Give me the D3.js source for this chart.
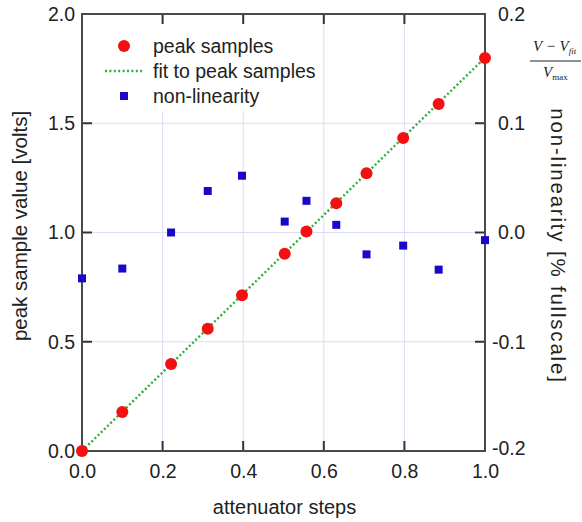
<!DOCTYPE html>
<html>
<head>
<meta charset="utf-8">
<script src="https://cdn.jsdelivr.net/npm/d3@7"></script>
<style>
  html, body { margin: 0; padding: 0; background: #fff; }
  svg { display: block; font-family: "Liberation Sans", Arial, Helvetica, sans-serif; }
</style>
</head>
<body>
<svg id="chart" width="582" height="522"></svg>
<script>
// attenuator step positions (x), shared by both series
const steps      = [0, 0.1, 0.221, 0.312, 0.397, 0.503, 0.557, 0.631, 0.706, 0.797, 0.885, 1.0];
// peak sample value [volts]
const peakVolts  = [0, 0.178, 0.398, 0.560, 0.713, 0.903, 1.005, 1.134, 1.271, 1.432, 1.588, 1.799];
// non-linearity, right axis
const nonLin     = [-0.042, -0.033, 0.0, 0.038, 0.052, 0.010, 0.029, 0.007, -0.020, -0.012, -0.034, -0.007];
// linear fit end points
const fitX       = [0, 1];
const fitY       = [0, 1.8];

const xTicks      = [0, 0.2, 0.4, 0.6, 0.8, 1.0];
const yLeftTicks  = [0, 0.5, 1.0, 1.5, 2.0];
const yRightTicks = [-0.2, -0.1, 0, 0.1, 0.2];

const legendItems = [
  { label: 'peak samples',          kind: 'circle' },
  { label: 'fit to peak samples',   kind: 'line'   },
  { label: 'non-linearity',         kind: 'square' },
];

// ── 레이아웃 ────────────────────────────────────────────────
const M = { left: 82, top: 14, right: 97, bottom: 71 };
const W = 582, H = 522;
const pw = W - M.left - M.right;
const ph = H - M.top - M.bottom;

const RED   = '#f21010';
const BLUE  = '#1a08c8';
const GREEN = '#2fae3a';
const AXIS  = '#4a4a4a';
const GRID  = '#dcdcf6';

const fmt = d => d3.format('.1f')(d).replace('−', '-');

const svg = d3.select('#chart');
const g = svg.append('g').attr('transform', `translate(${M.left},${M.top})`);

const x  = d3.scaleLinear().domain([0, 1]).range([0, pw]);
const yL = d3.scaleLinear().domain([0, 2]).range([ph, 0]);
const yR = d3.scaleLinear().domain([-0.2, 0.2]).range([ph, 0]);

// 격자
g.append('g').selectAll('line')
  .data(xTicks.filter(t => t > 0 && t < 1))
  .join('line')
  .attr('x1', d => x(d)).attr('x2', d => x(d))
  .attr('y1', 0).attr('y2', ph)
  .attr('stroke', GRID).attr('stroke-width', 1);

g.append('g').selectAll('line')
  .data(yLeftTicks.filter(t => t > 0 && t < 2))
  .join('line')
  .attr('x1', 0).attr('x2', pw)
  .attr('y1', d => yL(d)).attr('y2', d => yL(d))
  .attr('stroke', GRID).attr('stroke-width', 1);

// 범례 배경 (격자 가림)
g.append('rect')
  .attr('x', 10).attr('y', 1)
  .attr('width', 226).attr('height', 96)
  .attr('fill', '#fff');

// 축 (라벨만, 눈금은 아래에서 직접)
const axB = g.append('g').attr('transform', `translate(0,${ph})`)
  .call(d3.axisBottom(x).tickValues(xTicks).tickSize(0).tickPadding(16).tickFormat(fmt));
const axL = g.append('g')
  .call(d3.axisLeft(yL).tickValues(yLeftTicks).tickSize(0).tickPadding(7).tickFormat(fmt));
const axR = g.append('g').attr('transform', `translate(${pw},0)`)
  .call(d3.axisRight(yR).tickValues(yRightTicks).tickSize(0).tickPadding(13).tickFormat(fmt));

[axB, axL, axR].forEach(a => {
  a.select('.domain').remove();
  a.selectAll('.tick text').attr('fill', '#222').attr('font-size', 19.5)
    .attr('font-family', '"Liberation Sans", Arial, sans-serif');
});
axB.selectAll('.tick text').attr('dy', '0.55em');
axR.selectAll('.tick text').filter(d => d < 0).attr('dx', -6);
axR.selectAll('.tick text').filter(d => d === -0.2).attr('dy', '0.2em');

// 안쪽 눈금
const TICK = 10;
const ticksG = g.append('g').attr('stroke', '#333').attr('stroke-width', 2);
ticksG.selectAll('.tb').data(xTicks).join('line').attr('class', 'tb')
  .attr('x1', d => x(d)).attr('x2', d => x(d)).attr('y1', ph).attr('y2', ph - TICK);
ticksG.selectAll('.tt').data(xTicks).join('line').attr('class', 'tt')
  .attr('x1', d => x(d)).attr('x2', d => x(d)).attr('y1', 0).attr('y2', TICK);
ticksG.selectAll('.tl').data(yLeftTicks).join('line').attr('class', 'tl')
  .attr('x1', 0).attr('x2', TICK).attr('y1', d => yL(d)).attr('y2', d => yL(d));
ticksG.selectAll('.tr').data(yRightTicks).join('line').attr('class', 'tr')
  .attr('x1', pw).attr('x2', pw - TICK).attr('y1', d => yR(d)).attr('y2', d => yR(d));

// 테두리
g.append('rect')
  .attr('width', pw).attr('height', ph)
  .attr('fill', 'none').attr('stroke', AXIS).attr('stroke-width', 2);

// 피팅 직선
g.append('path')
  .datum(fitX.map((v, i) => [v, fitY[i]]))
  .attr('d', d3.line().x(d => x(d[0])).y(d => yL(d[1])))
  .attr('fill', 'none')
  .attr('stroke', GREEN).attr('stroke-width', 2.4)
  .attr('stroke-dasharray', '2 2.4');

// 비선형성 (사각형)
const SQ = 8;
g.append('g').selectAll('rect')
  .data(steps.map((s, i) => [s, nonLin[i]]))
  .join('rect')
  .attr('x', d => x(d[0]) - SQ / 2).attr('y', d => yR(d[1]) - SQ / 2)
  .attr('width', SQ).attr('height', SQ)
  .attr('fill', BLUE);

// 피크 샘플 (원)
g.append('g').selectAll('circle')
  .data(steps.map((s, i) => [s, peakVolts[i]]))
  .join('circle')
  .attr('cx', d => x(d[0])).attr('cy', d => yL(d[1]))
  .attr('r', 6)
  .attr('fill', RED);

// 범례
const leg = svg.append('g').attr('transform', 'translate(124,46)');
legendItems.forEach((it, i) => {
  const row = leg.append('g').attr('transform', `translate(0,${i * 25})`);
  if (it.kind === 'circle') {
    row.append('circle').attr('r', 6).attr('fill', RED);
  } else if (it.kind === 'line') {
    row.append('line').attr('x1', -19).attr('x2', 18)
      .attr('stroke', GREEN).attr('stroke-width', 2.4).attr('stroke-dasharray', '2 2.4');
  } else {
    row.append('rect').attr('x', -4).attr('y', -4).attr('width', 8).attr('height', 8).attr('fill', BLUE);
  }
  row.append('text')
    .attr('x', 29).attr('y', 6.5)
    .attr('font-size', 19.5).attr('fill', '#222')
    .text(it.label);
});

// 축 제목
svg.append('text')
  .attr('x', M.left + pw / 2 + 1).attr('y', 514)
  .attr('text-anchor', 'middle')
  .attr('font-size', 20).attr('fill', '#222')
  .text('attenuator steps');

svg.append('text')
  .attr('transform', 'translate(27,226) rotate(-90)')
  .attr('text-anchor', 'middle')
  .attr('font-size', 20.5).attr('fill', '#222')
  .text('peak sample value [volts]');

svg.append('text')
  .attr('transform', 'translate(551,246) rotate(90)')
  .attr('text-anchor', 'middle')
  .attr('font-size', 20.5).attr('fill', '#222')
  .attr('letter-spacing', 1.8)
  .text('non-linearity [% fullscale]');

// 수식 (V - V_fit) / V_max
const eq = svg.append('g')
  .attr('font-family', '"Liberation Serif", "Times New Roman", serif')
  .attr('fill', '#222');
const num = eq.append('text').attr('x', 533).attr('y', 51).attr('font-size', 15).attr('font-style', 'italic');
num.append('tspan').text('V − V');
num.append('tspan').attr('font-size', 9).attr('dy', 3).text('fit');
eq.append('line')
  .attr('x1', 530).attr('x2', 581).attr('y1', 61).attr('y2', 61)
  .attr('stroke', '#222').attr('stroke-width', 1);
const den = eq.append('text').attr('x', 543).attr('y', 77).attr('font-size', 15).attr('font-style', 'italic');
den.append('tspan').text('V');
den.append('tspan').attr('font-size', 9).attr('font-style', 'normal').attr('dy', 3).text('max');
</script>
</body>
</html>
